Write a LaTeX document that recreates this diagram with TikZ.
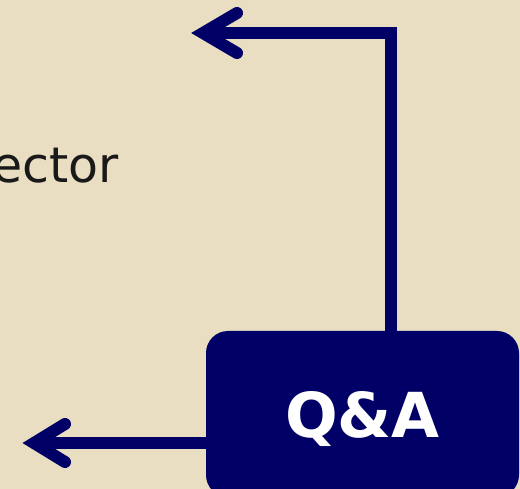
\documentclass[tikz,border=0pt]{standalone}
\usepackage{fontspec}
\setmainfont{DejaVu Sans}
\usetikzlibrary{calc}
\definecolor{bgbeige}{HTML}{E9DEC1}
\definecolor{navy}{HTML}{000066}
\begin{document}
\begin{tikzpicture}[x=1pt,y=-1pt,
  conn/.style={draw=navy,line width=12pt,line join=miter},
  barb/.style={draw=navy,line width=12pt,line cap=round,line join=miter,miter limit=10},
  qabox/.style={fill=navy,rounded corners=22pt,minimum width=313pt,minimum height=166pt,inner sep=0pt,
    text=white,font=\fontsize{62}{70}\selectfont\bfseries,text height=46pt,text depth=0pt}]
\useasboundingbox[fill=bgbeige] (0,0) rectangle (520,489);
\node[anchor=base east,inner sep=0pt,font=\fontsize{49}{55}\selectfont,text=black!90] (lbl) at (119,183) {ector};
\coordinate (corner) at (391,33);
\coordinate (tipA) at (203,33);
\coordinate (tipB) at (34,443);
\draw[conn] (tipB -| 206,0) -- (tipB);
\node[qabox] (qa) at (362.5,414) {Q\&A};
\draw[conn] (qa.north -| corner) -- (corner) -- (tipA);
\draw[barb] ($(tipA)+(34,-20)$) -- (tipA) -- ($(tipA)+(34,20)$);
\draw[barb] ($(tipB)+(31,-19)$) -- (tipB) -- ($(tipB)+(31,19)$);
\end{tikzpicture}
\end{document}
